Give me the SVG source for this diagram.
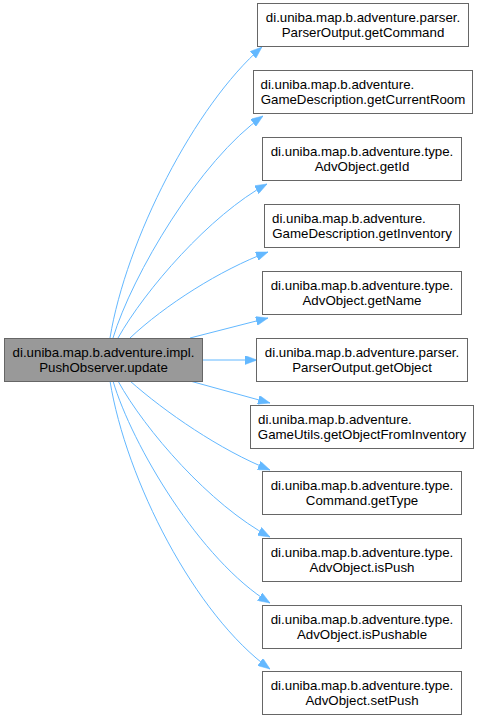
<svg xmlns="http://www.w3.org/2000/svg" width="479" height="720" viewBox="0 0 479 720">
<style>
.bg{fill:#ffffff}
.node rect{fill:#ffffff;stroke:#666666;stroke-width:1}
#n0 rect{fill:#999999}
text{font-family:"Liberation Sans",Arial,sans-serif;font-size:13.3px;fill:#000000}
.c{text-anchor:middle}
.s{text-anchor:start}
.edges path{fill:none;stroke:#63b8ff;stroke-width:1;marker-end:url(#ah)}
</style>
<defs>
<marker id="ah" viewBox="0 0 12 9" refX="12" refY="4.5" markerWidth="12" markerHeight="9" markerUnits="userSpaceOnUse" orient="auto">
<path d="M0,0 L12,4.5 L0,9 z" fill="#63b8ff" stroke="#63b8ff" stroke-width="0.5"/>
</marker>
</defs>
<rect class="bg" x="0" y="0" width="479" height="720"/>
<g class="edges">
<path d="M110,338 C126,240 195,105 262,47"/>
<path d="M113,338 C132,275 200,160 263,116"/>
<path d="M118,338 C145,290 210,215 267,184"/>
<path d="M130,338 C165,305 220,270 268,252"/>
<path d="M190,338 L268,318"/>
<path d="M203,360 L257,360"/>
<path d="M190,381 L270,403"/>
<path d="M130,381 C165,412 220,450 270,470"/>
<path d="M118,381 C145,430 210,505 270,537"/>
<path d="M113,381 C132,445 200,560 270,603"/>
<path d="M110,381 C126,480 195,615 270,669"/>
</g>
<g id="n0" class="node"><rect x="4.5" y="338.5" width="198" height="43"/><text class="c" x="103.5" y="356.5">di.uniba.map.b.adventure.impl.</text><text class="c" x="103.5" y="371.5">PushObserver.update</text></g>
<g id="n1" class="node"><rect x="257.5" y="3.5" width="211" height="43"/><text class="c" x="363" y="21.5">di.uniba.map.b.adventure.parser.</text><text class="c" x="363" y="36.5">ParserOutput.getCommand</text></g>
<g id="n2" class="node"><rect x="253.5" y="70.5" width="219" height="43"/><text class="s" x="260.5" y="88.5">di.uniba.map.b.adventure.</text><text class="c" x="363" y="103.5">GameDescription.getCurrentRoom</text></g>
<g id="n3" class="node"><rect x="262.5" y="137.5" width="199" height="43"/><text class="c" x="362" y="155.5">di.uniba.map.b.adventure.type.</text><text class="c" x="362" y="170.5">AdvObject.getId</text></g>
<g id="n4" class="node"><rect x="264.5" y="204.5" width="195" height="43"/><text class="s" x="272" y="222.5">di.uniba.map.b.adventure.</text><text class="c" x="362" y="237.5">GameDescription.getInventory</text></g>
<g id="n5" class="node"><rect x="262.5" y="271.5" width="199" height="43"/><text class="c" x="362" y="289.5">di.uniba.map.b.adventure.type.</text><text class="c" x="362" y="304.5">AdvObject.getName</text></g>
<g id="n6" class="node"><rect x="256.5" y="338.5" width="211" height="43"/><text class="c" x="362" y="356.5">di.uniba.map.b.adventure.parser.</text><text class="c" x="362" y="371.5">ParserOutput.getObject</text></g>
<g id="n7" class="node"><rect x="250.5" y="405.5" width="223" height="43"/><text class="s" x="258" y="423.5">di.uniba.map.b.adventure.</text><text class="c" x="362" y="438.5">GameUtils.getObjectFromInventory</text></g>
<g id="n8" class="node"><rect x="262.5" y="471.5" width="199" height="43"/><text class="c" x="362" y="489.5">di.uniba.map.b.adventure.type.</text><text class="c" x="362" y="504.5">Command.getType</text></g>
<g id="n9" class="node"><rect x="262.5" y="538.5" width="199" height="43"/><text class="c" x="362" y="556.5">di.uniba.map.b.adventure.type.</text><text class="c" x="362" y="571.5">AdvObject.isPush</text></g>
<g id="n10" class="node"><rect x="262.5" y="605.5" width="199" height="43"/><text class="c" x="362" y="623.5">di.uniba.map.b.adventure.type.</text><text class="c" x="362" y="638.5">AdvObject.isPushable</text></g>
<g id="n11" class="node"><rect x="262.5" y="671.5" width="199" height="43"/><text class="c" x="362" y="689.5">di.uniba.map.b.adventure.type.</text><text class="c" x="362" y="704.5">AdvObject.setPush</text></g>
</svg>
